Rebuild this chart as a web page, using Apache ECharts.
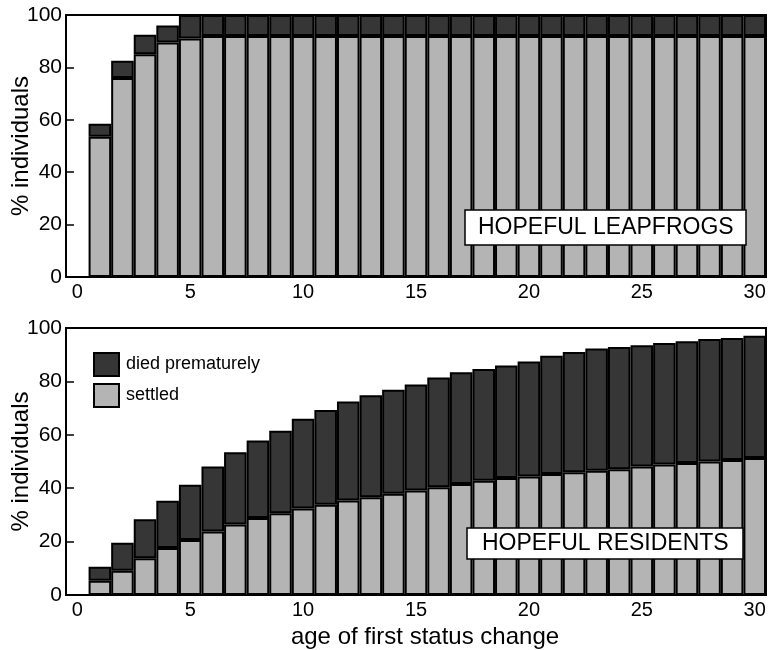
<!DOCTYPE html>
<html>
<head>
<meta charset="utf-8">
<script src="https://cdn.jsdelivr.net/npm/echarts@6/dist/echarts.min.js"></script>
<style>
html,body{margin:0;padding:0;background:#fff;}
#chart{width:771px;height:650px;}
</style>
</head>
<body>
<div id="chart"></div>
<script>
const categories = ['0','1','2','3','4','5','6','7','8','9','10','11','12','13','14','15','16','17','18','19','20','21','22','23','24','25','26','27','28','29','30'];

// HOPEFUL LEAPFROGS (top panel)
const leapSettled = [null, 53.5, 76, 85, 89.5, 91, 92, 92, 92, 92, 92, 92, 92, 92, 92, 92, 92, 92, 92, 92, 92, 92, 92, 92, 92, 92, 92, 92, 92, 92, 92];
const leapDied    = [null, 5, 6.5, 7.5, 6.5, 9, 8, 8, 8, 8, 8, 8, 8, 8, 8, 8, 8, 8, 8, 8, 8, 8, 8, 8, 8, 8, 8, 8, 8, 8, 8];

// HOPEFUL RESIDENTS (bottom panel)
const resSettled = [null, 5.3, 9.1, 13.8, 17.6, 20.6, 23.8, 26.4, 28.8, 30.6, 32.4, 33.8, 35.4, 36.6, 37.9, 39.1, 40.4, 41.6, 42.8, 43.8, 44.4, 45.3, 46.0, 46.5, 47.1, 48.1, 48.9, 49.4, 50.0, 50.6, 51.3];
const resDied    = [null, 5.3, 10.5, 14.6, 17.7, 20.7, 24.3, 27.1, 29.1, 30.9, 33.6, 35.5, 37.1, 38.2, 39.0, 39.7, 41.1, 41.8, 41.8, 42.2, 43.1, 44.3, 45.0, 45.8, 45.8, 45.4, 45.5, 45.6, 45.9, 45.7, 45.8];

const panelTitles = ['HOPEFUL LEAPFROGS', 'HOPEFUL RESIDENTS'];
const seriesNames = ['died prematurely', 'settled'];

const FONT = 'Liberation Sans, Arial, Helvetica, sans-serif';
const settledColor = '#b4b4b4';
const diedColor = '#363636';

function xAxis(idx, withName) {
  return {
    type: 'category', gridIndex: idx, data: categories, boundaryGap: true,
    axisLine: { lineStyle: { color: '#000', width: 2 } },
    axisTick: { show: false },
    axisLabel: { interval: 4, color: '#000', fontSize: 20, fontFamily: FONT, margin: 5 },
    splitLine: { show: false },
    name: withName ? 'age of first status change' : '',
    nameLocation: 'middle', nameGap: 30, nameMoveOverlap: false,
    nameTextStyle: { color: '#000', fontSize: 24, fontFamily: FONT, padding: [0, 0, 0, 18] }
  };
}
function yAxis(idx) {
  return {
    type: 'value', gridIndex: idx, min: 0, max: 100, interval: 20,
    axisLine: { show: true, lineStyle: { color: '#000', width: 2 } },
    axisTick: { show: true, inside: true, length: 8, lineStyle: { color: '#000', width: 1.5 } },
    axisLabel: { color: '#000', fontSize: 21, fontFamily: FONT, margin: 4 },
    splitLine: { show: false },
    name: '% individuals', nameLocation: 'middle', nameGap: 33, nameMoveOverlap: false,
    nameTextStyle: { color: '#000', fontSize: 24, fontFamily: FONT }
  };
}
function bar(name, data, idx, color) {
  return {
    name: name, type: 'bar', data: data, xAxisIndex: idx, yAxisIndex: idx,
    stack: 'p' + idx, barWidth: '100%', barCategoryGap: '0%',
    itemStyle: { color: color, borderColor: '#000', borderWidth: 2 },
    emphasis: { disabled: true }, animation: false
  };
}

const chart = echarts.init(document.getElementById('chart'));
chart.setOption({
  backgroundColor: '#fff',
  animation: false,
  grid: [
    { left: 66, right: 5, top: 15, height: 262, outerBoundsMode: 'none', containLabel: false, show: true, borderColor: '#000', borderWidth: 2, backgroundColor: 'transparent' },
    { left: 66, right: 5, top: 328, height: 267, outerBoundsMode: 'none', containLabel: false, show: true, borderColor: '#000', borderWidth: 2, backgroundColor: 'transparent' }
  ],
  title: [
    { text: panelTitles[0], left: 465, top: 210, padding: [5, 13, 5, 13], backgroundColor: '#fff', borderColor: '#000', borderWidth: 1.5,
      textStyle: { color: '#000', fontSize: 23, fontWeight: 'normal', fontFamily: FONT, lineHeight: 25 } },
    { text: panelTitles[1], left: 467, top: 528, padding: [3, 15, 3, 15], backgroundColor: '#fff', borderColor: '#000', borderWidth: 1.5,
      textStyle: { color: '#000', fontSize: 23, fontWeight: 'normal', fontFamily: FONT, lineHeight: 25 } }
  ],
  legend: {
    data: seriesNames, orient: 'vertical', left: 88, top: 347,
    itemWidth: 25, itemHeight: 23, itemGap: 6,
    itemStyle: { borderColor: '#000', borderWidth: 2 },
    textStyle: { color: '#000', fontSize: 18, fontFamily: FONT, padding: [0, 0, 0, 2] },
    selectedMode: false, icon: 'rect'
  },
  xAxis: [xAxis(0, false), xAxis(1, true)],
  yAxis: [yAxis(0), yAxis(1)],
  series: [
    bar(seriesNames[1], leapSettled, 0, settledColor),
    bar(seriesNames[0], leapDied, 0, diedColor),
    bar(seriesNames[1], resSettled, 1, settledColor),
    bar(seriesNames[0], resDied, 1, diedColor)
  ]
});
</script>
</body>
</html>
